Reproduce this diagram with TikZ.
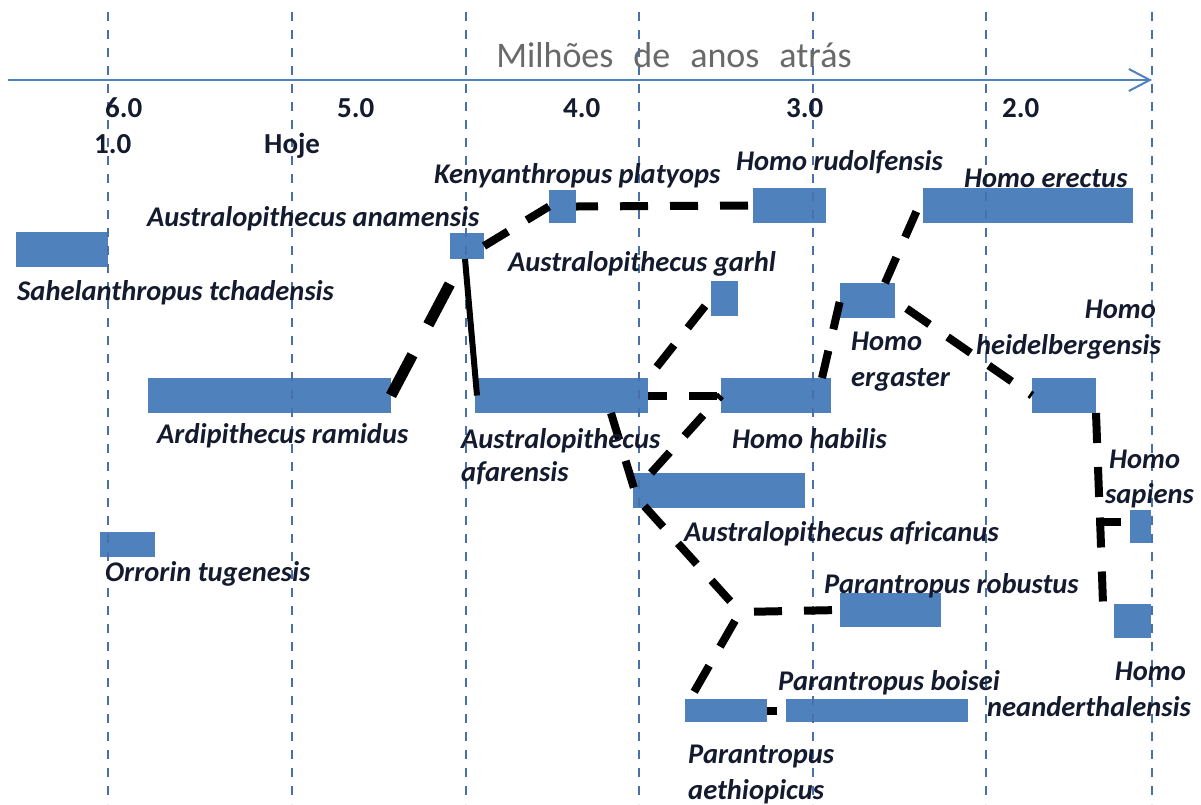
\documentclass[tikz,border=0pt]{standalone}
\usepackage{fontspec}
\setmainfont{Carlito}
\usetikzlibrary{arrows.meta,calc}
\definecolor{barblue}{RGB}{79,129,189}
\definecolor{gridblue}{RGB}{72,112,172}
\definecolor{inkdark}{RGB}{20,27,46}
\definecolor{titlegray}{RGB}{105,105,105}

\begin{document}
\begin{tikzpicture}[x=1pt,y=-1pt,
  bar/.style={fill=barblue, draw=none, inner sep=0pt, outer sep=0pt, anchor=north west},
  gridline/.style={draw=gridblue, line width=1.6pt, dash pattern=on 9pt off 9pt},
  axisline/.style={draw=barblue, line width=2pt, -{Straight Barb[length=21pt,width=22pt,line width=2pt]}},
  link/.style={draw=black, line width=8pt, dash pattern=on 28pt off 22pt},
  heavylink/.style={draw=black, line width=11pt, dash pattern=on 46pt off 34pt},
  solidlink/.style={draw=black, line width=6pt},
  species/.style={inner sep=0pt, text=inkdark, anchor=base west, font=\fontsize{28.5}{33}\selectfont\bfseries\itshape},
  tick/.style={inner sep=0pt, text=inkdark, anchor=base west, font=\fontsize{29}{34}\selectfont\bfseries},
]
\fill[white] (0,0) rectangle (1201,804);
\useasboundingbox (0,0) rectangle (1201,804);

% species time ranges
\node[bar, minimum width=92pt,  minimum height=35pt] (sah)  at (16,232)  {};
\node[bar, minimum width=55pt,  minimum height=25pt] (orr)  at (100,532) {};
\node[bar, minimum width=243pt, minimum height=35pt] (ardi) at (148,378) {};
\node[bar, minimum width=34pt,  minimum height=26pt] (ana)  at (450,233) {};
\node[bar, minimum width=27pt,  minimum height=33pt] (keny) at (549,190) {};
\node[bar, minimum width=73pt,  minimum height=35pt] (rudo) at (753,188) {};
\node[bar, minimum width=210pt, minimum height=35pt] (erec) at (923,188) {};
\node[bar, minimum width=27pt,  minimum height=35pt] (garh) at (711,281) {};
\node[bar, minimum width=55pt,  minimum height=35pt] (erga) at (840,283) {};
\node[bar, minimum width=173pt, minimum height=35pt] (afar) at (475,378) {};
\node[bar, minimum width=110pt, minimum height=35pt] (habi) at (721,378) {};
\node[bar, minimum width=64pt,  minimum height=35pt] (heid) at (1032,378) {};
\node[bar, minimum width=172pt, minimum height=35pt] (afri) at (633,473) {};
\node[bar, minimum width=21pt,  minimum height=33pt] (sapi) at (1130,510) {};
\node[bar, minimum width=101pt, minimum height=34pt] (robu) at (840,593) {};
\node[bar, minimum width=37pt,  minimum height=34pt] (nean) at (1114,604) {};
\node[bar, minimum width=82pt,  minimum height=23pt] (aeth) at (685,699) {};
\node[bar, minimum width=182pt, minimum height=23pt] (bois) at (786,699) {};

% vertical guides, one per million years
\foreach \gx in {108,292,466,639,813,986,1152}
  \draw[gridline] (\gx,12) -- (\gx,804);

% time axis
\coordinate (axisL) at (8,80);
\coordinate (axisR) at (1152,80);
\draw[axisline] (axisL) -- (axisR);
\node[inner sep=0pt, anchor=base, text=titlegray, font=\fontsize{36}{40}\selectfont] (title) at (674,67)
  {\spaceskip=20pt Milhões de anos atrás};

% scale labels
\node[tick] (t6) at (105,117) {6.0};
\node[tick] (t5) at (337,117) {5.0};
\node[tick] (t4) at (563,117) {4.0};
\node[tick] (t3) at (786,117) {3.0};
\node[tick] (t2) at (1002,117) {2.0};
\node[tick] (t1) at (94,153) {1.0};
\node[tick] (t0) at (264,153) {Hoje};

% branching points
\coordinate (hsplit) at ([xshift=-30pt,yshift=5pt]sapi.west);
\coordinate (abend)  at ([xshift=4pt,yshift=10pt]afri.south west);
\coordinate (psplit) at ([xshift=-100pt,yshift=-2pt]robu.west);

% lineages
\draw[heavylink] (ardi.east) -- ([xshift=-4pt]ana.south);
\draw[solidlink] ([xshift=-2pt]ana.south) -- ([xshift=2pt]afar.west);
\draw[link] (ana.east) -- (keny.west);
\draw[link, dash phase=6pt] (keny.east) -- (rudo.west);
\draw[link, dash phase=9pt] (afar.east) -- (habi.west);
\draw[link] ([xshift=18pt]afri.north west) -- (habi.west);
\draw[link, dash phase=36pt] (afar.north east) -- (garh.west);
\draw[link] ([xshift=-9pt]habi.north east) -- (erga.west);
\draw[link] ([xshift=-10pt]erga.north east) -- ([xshift=-4pt]erec.west);
\draw[link, dash phase=36pt] (erga.east) -- (heid.west);
\draw[link, dash pattern=on 30pt off 24pt] (heid.south east) -- (hsplit);
\draw[link, dash pattern=on 25pt off 20pt] ([xshift=-4pt]hsplit) -- (hsplit -| sapi.west);
\draw[link, dash pattern=on 30pt off 24pt] ([yshift=4pt]hsplit) -- ([xshift=-11pt]nean.north west);
\draw[link] ([xshift=-37pt]afar.south east) -- (abend) -- (psplit);
\draw[link, dash phase=36pt] (psplit) -- (robu.west);
\draw[link, dash pattern=on 30pt off 22pt, dash phase=42pt] (psplit) -- ([xshift=5pt]aeth.north west);
\draw[link, dash pattern=on 10pt off 10pt] (aeth.east) -- (bois.west);

% species names
\node[species] (lkeny) at (434,183) {Kenyanthropus platyops};
\node[species] (lrudo) at (736,170) {Homo rudolfensis};
\node[species] (lerec) at (964,187) {Homo erectus};
\node[species] (lana)  at (147,226) {Australopithecus anamensis};
\node[species] (lsah)  at (17,300)  {Sahelanthropus tchadensis};
\node[species] (lgarh) at (508,271) {Australopithecus garhl};
\node[species] (lardi) at (157,443) {Ardipithecus ramidus};
\node[species] (lafarA) at (461,448) {Australopithecus};
\node[species] (lafarB) at (461,481) {afarensis};
\node[species] (lergaA) at (851,350) {Homo};
\node[species] (lergaB) at (851,386) {ergaster};
\node[species, anchor=base east] (lheidA) at (1156,318) {Homo};
\node[species, anchor=base east] (lheidB) at (1161,354) {heidelbergensis};
\node[species] (lhabi) at (732,448) {Homo habilis};
\node[species] (lsapiA) at (1109,468) {Homo};
\node[species] (lsapiB) at (1105,503) {sapiens};
\node[species] (lafri) at (684,541) {Australopithecus africanus};
\node[species] (lrobu) at (824,593) {Parantropus robustus};
\node[species] (lbois) at (778,690) {Parantropus boisei};
\node[species, anchor=base east] (lneanA) at (1186,680) {Homo};
\node[species, anchor=base east] (lneanB) at (1191,716) {neanderthalensis};
\node[species] (laethA) at (688,763) {Parantropus};
\node[species] (laethB) at (688,799) {aethiopicus};
\node[species] (lorr)  at (105,581) {Orrorin tugenesis};
\end{tikzpicture}
\end{document}
